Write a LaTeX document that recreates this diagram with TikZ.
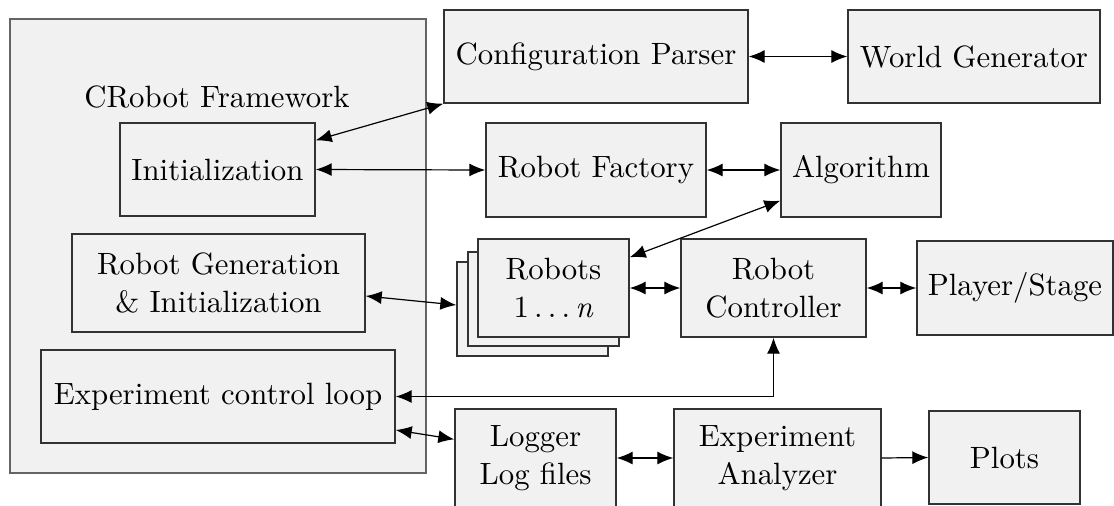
\documentclass[tikz,border=0pt]{standalone}
\usepackage{fontspec}
\setmainfont{lmroman10-regular.otf}[ItalicFont=lmroman10-italic.otf]
\usetikzlibrary{arrows.meta}
\definecolor{boxfill}{RGB}{241,241,241}
\definecolor{boxline}{RGB}{50,50,50}
\definecolor{frameline}{RGB}{100,100,100}
\begin{document}
\begin{tikzpicture}[x=0.5pt,y=-0.5pt,
  box/.style={draw=boxline, fill=boxfill, line width=0.7pt, inner sep=0pt, align=center, anchor=center},
  frame/.style={draw=frameline, fill=boxfill, line width=0.8pt, inner sep=0pt},
  link/.style={line width=0.6pt, {Latex[length=8pt,width=6.5pt]}-{Latex[length=8pt,width=6.5pt]}},
  oneway/.style={line width=0.6pt, -{Latex[length=8pt,width=6.5pt]}},
  font=\fontsize{15.4}{19}\selectfont]
\path[use as bounding box, clip] (0,0) rectangle (1114,505);

% framework
\node[frame, minimum width=208pt, minimum height=227pt] (frame) at (218,246) {};
\node (title) at (217,97) {CRobot Framework};
\node[box, minimum width=97.5pt, minimum height=46.5pt] (init) at (217.5,169.5) {Initialization};
\node[box, minimum width=146.5pt, minimum height=49pt] (robgen) at (218.5,283) {Robot Generation\\ \& Initialization};
\node[box, minimum width=177pt, minimum height=46.5pt] (exploop) at (218,396.5) {Experiment control loop};

% top row
\node[box, minimum width=152pt, minimum height=46.5pt] (config) at (596,56.5) {Configuration Parser};
\node[box, minimum width=126pt, minimum height=46.5pt] (world) at (974,56.5) {World Generator};

% second row
\node[box, minimum width=110pt, minimum height=47pt] (factory) at (596,170) {Robot Factory};
\node[box, minimum width=80pt, minimum height=47pt] (algo) at (861,170) {Algorithm};

% robots stack
\node[box, minimum width=75.5pt, minimum height=47pt] (rb3) at (532.5,309) {};
\node[box, minimum width=75.5pt, minimum height=47pt] (rb2) at (543.5,299) {};
\node[box, minimum width=75.5pt, minimum height=49pt] (rb1) at (553.5,288) {Robots\\ 1\,.\,.\,.\,\textit{n}};
\node[box, minimum width=92.5pt, minimum height=49pt] (ctrl) at (773.5,288) {Robot\\ Controller};
\node[box, minimum width=98pt, minimum height=47pt] (player) at (1015,288) {Player/Stage};

% bottom row
\node[box, minimum width=80.5pt, minimum height=49pt] (logger) at (535.5,458) {Logger\\ Log files};
\node[box, minimum width=103.5pt, minimum height=49pt] (analyzer) at (777.5,458) {Experiment\\ Analyzer};
\node[box, minimum width=75.5pt, minimum height=46.5pt] (plots) at (1004.5,457.5) {Plots};

% connectors
\draw[link] (config.east) -- (world.west);
\draw[link] ([yshift=-9pt]init.north east) -- (config.south west);
\draw[link] (init.east) -- (factory.west);
\draw[link] (factory.east) -- (algo.west);
\draw[link] ([yshift=-9.5pt]rb1.north east) -- ([yshift=8.5pt]algo.south west);
\draw[link] ([yshift=-6.5pt]robgen.east) -- ([yshift=2pt]rb3.west);
\draw[link] (rb1.east) -- (ctrl.west);
\draw[link] (ctrl.east) -- (player.west);
\draw[link] (exploop.east) -| (ctrl.south);
\draw[link] ([yshift=-16.75pt]exploop.east) -- ([yshift=-15.5pt]logger.north west);
\draw[link] (logger.east) -- (analyzer.west);
\draw[oneway] (analyzer.east) -- (plots.west);
\end{tikzpicture}
\end{document}
